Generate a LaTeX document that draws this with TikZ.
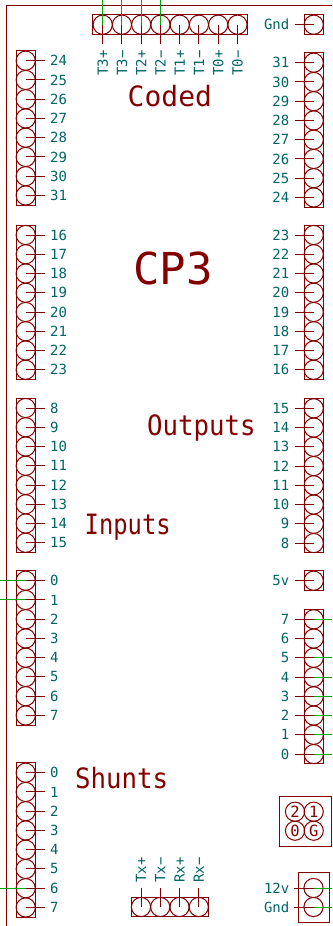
\documentclass[tikz,border=0pt]{standalone}
\usepackage{graphicx}
\usepackage{fontspec}
\setmainfont{DejaVu Sans Mono}
\definecolor{kred}{HTML}{840000}
\definecolor{kteal}{HTML}{006464}
\definecolor{kgreen}{HTML}{00A800}
\tikzset{
  pad/.style={circle,draw=kred,line width=1pt,minimum size=19.2pt,inner sep=0pt,outer sep=0pt},
  hbox/.style={draw=kred,line width=1pt},
  pin/.style={draw=kred,line width=1pt},
  wire/.style={draw=kgreen,line width=1pt},
  lab/.style={text=kteal,font=\fontsize{14}{14}\selectfont,inner sep=0pt},
  title/.style={text=kred,inner sep=0pt,anchor=base west,font=\fontsize{28}{28}\selectfont},
}
\newcommand{\leftcol}[4]{
  \draw[hbox] (16,#2-9.8) rectangle (35.2,#2+19.25*#4-19.25+9.8);
  \foreach \t [count=\i from 0] in {#3} {
    \pgfmathsetmacro{\yy}{#2+19.25*\i}
    \node[pad] (#1-\i) at (25.7,\yy) {};
    \coordinate (#1-\i-e) at (45,\yy);
    \draw[pin] (#1-\i.center) -- (#1-\i-e);
    \node[lab,anchor=west] (#1-\i-t) at (50,\yy) {\t};
  }
}
\newcommand{\rightcol}[4]{
  \draw[hbox] (304,#2-9.8) rectangle (323.2,#2+19.25*#4-19.25+9.8);
  \foreach \t [count=\i from 0] in {#3} {
    \pgfmathsetmacro{\yy}{#2+19.25*\i}
    \node[pad] (#1-\i) at (313.7,\yy) {};
    \coordinate (#1-\i-e) at (294.5,\yy);
    \draw[pin] (#1-\i.center) -- (#1-\i-e);
    \node[lab,anchor=east] (#1-\i-t) at (289.5,\yy) {\t};
  }
}
\newcommand{\topcol}[7]{
  \draw[hbox] (#2-9.8,#3-9.8) rectangle (#2+19.25*#5-19.25+9.8,#3+9.8);
  \foreach \t [count=\i from 0] in {#4} {
    \pgfmathsetmacro{\xx}{#2+19.25*\i}
    \node[pad] (#1-\i) at (\xx,#3) {};
    \coordinate (#1-\i-e) at (\xx,#6);
    \draw[pin] (#1-\i.center) -- (#1-\i-e);
    \node[lab,rotate=90,anchor=west] (#1-\i-t) at (\xx,#7) {\t};
  }
}
\begin{document}
\begin{tikzpicture}[x=1pt,y=-1pt]
\useasboundingbox (0,0) rectangle (332,926);
\coordinate (f1) at (6.5,926);
\coordinate (f2) at (6.5,5);
\coordinate (f3) at (332,5);
\draw[pin] (f1) -- (f2) -- (f3);

\topcol{T}{102.7}{24.7}{T3+,T3\char"2212,T2+,T2\char"2212,T1+,T1\char"2212,T0+,T0\char"2212}{8}{43.5}{76}
\foreach \i in {0,1,2,3} {
  \path (T-\i.center) ++(0,-24.7) coordinate (Tw-\i);
  \draw[wire] (Tw-\i) -- (T-\i.center);
}
\draw[hbox] (304,14.9) rectangle (323.2,34.5);
\node[pad] (G) at (313.7,24.7) {};
\coordinate (Ge) at (294.5,24.7);
\draw[pin] (G.center) -- (Ge);
\node[lab,anchor=east] (Gt) at (289.5,24.7) {Gnd};

\leftcol{A}{60.7}{24,25,26,27,28,29,30,31}{8}
\leftcol{B}{235}{16,17,18,19,20,21,22,23}{8}
\leftcol{C}{408}{8,9,10,11,12,13,14,15}{8}
\leftcol{D}{580.7}{0,1,2,3,4,5,6,7}{8}
\leftcol{E}{772.7}{0,1,2,3,4,5,6,7}{8}
\rightcol{P}{62.7}{31,30,29,28,27,26,25,24}{8}
\rightcol{Q}{235}{23,22,21,20,19,18,17,16}{8}
\rightcol{R}{408.3}{15,14,13,12,11,10,9,8}{8}
\rightcol{S}{619.3}{7,6,5,4,3,2,1,0}{8}

\draw[hbox] (304,570.9) rectangle (323.2,590.5);
\node[pad] (V) at (313.7,580.7) {};
\coordinate (Ve) at (294.5,580.7);
\draw[pin] (V.center) -- (Ve);
\node[lab,anchor=east] (Vt) at (289.5,580.7) {5v};

\foreach \n in {D-0,D-1,E-6} {
  \path (\n.center) ++(-25.7,0) coordinate (\n-w);
  \draw[wire] (\n-w) -- (\n.center);
}
\foreach \n in {S-0,S-2,S-3,S-4,S-5,S-6,S-7} {
  \path (\n.center) ++(18.3,0) coordinate (\n-w);
  \draw[wire] (\n-w) -- (\n.center);
}

\topcol{X}{141}{907}{Tx+,Tx\char"2212,Rx+,Rx\char"2212}{4}{888}{883}

\draw[hbox] (279,796) rectangle (331,846);
\foreach \nm/\xx/\yy/\t in {h2/295/811.7/2,h1/313.7/811.7/1,h0/295/830.7/0,hG/313.7/830.7/G}
  \node[pad,text=kred,font=\fontsize{15.5}{15.5}\selectfont] (\nm) at (\xx,\yy) {\t};

\draw[hbox] (298,872.7) rectangle (329.3,922.7);
\node[pad] (W1) at (313.5,888) {};
\node[pad] (W2) at (313.5,907) {};
\coordinate (W1e) at (294.3,888);
\coordinate (W2e) at (294.3,907);
\coordinate (W1g) at (332,888);
\coordinate (W2g) at (332,907);
\draw[wire] (W1.center) -- (W1g);
\draw[wire] (W2.center) -- (W2g);
\draw[pin] (W1.center) -- (W1e);
\draw[pin] (W2.center) -- (W2e);
\node[lab,anchor=east] (W1t) at (289.5,888) {12v};
\node[lab,anchor=east] (W2t) at (289.5,907) {Gnd};

\node[title] (t1) at (127.5,106.5) {Coded};
\node[title,font=\fontsize{44}{44}\selectfont] (t2) at (133,284) {CP3};
\node[title] (t3) at (147,435) {\scalebox{.92}[1]{Outputs}};
\node[title] (t4) at (84.5,534.5) {\scalebox{.85}[1]{Inputs}};
\node[title] (t5) at (75,788) {\scalebox{.92}[1]{Shunts}};
\end{tikzpicture}
\end{document}
